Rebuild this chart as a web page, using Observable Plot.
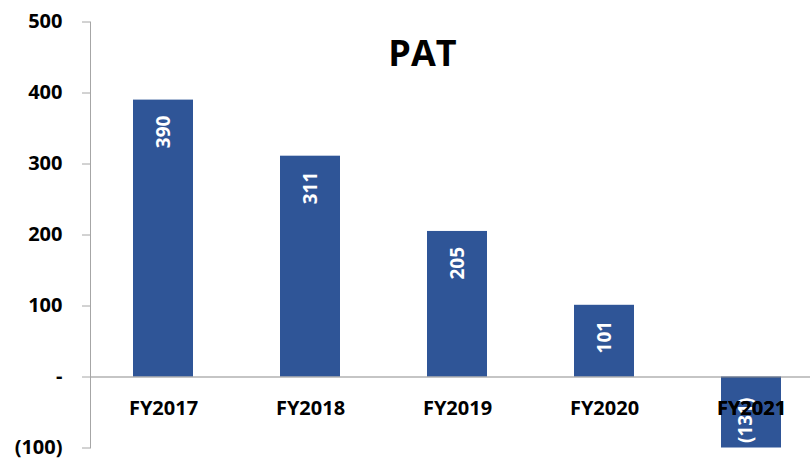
<!DOCTYPE html>
<html>
<head>
<meta charset="utf-8">
<script src="https://cdn.jsdelivr.net/npm/d3@7"></script>
<script src="https://cdn.jsdelivr.net/npm/@observablehq/plot@0.6"></script>
<style>
  html, body { margin: 0; padding: 0; background: #fff; }
</style>
</head>
<body>
<div id="chart"></div>
<script>
const years = ["FY2017", "FY2018", "FY2019", "FY2020", "FY2021"];
const pat = [390, 311, 205, 101, -131];
const patLabels = ["390", "311", "205", "101", "(131)"];
const yTicks = [-100, 0, 100, 200, 300, 400, 500];
const title = "PAT";

const data = years.map((y, i) => ({year: y, value: pat[i], label: patLabels[i]}));
const pos = data.filter(d => d.value >= 0);
const neg = data.filter(d => d.value < 0);

const fmt = v => v === 0 ? "-" : v < 0 ? `(${Math.abs(v)})` : `${v}`;
const gray = "#a6a6a6";

const chart = Plot.plot({
  width: 810,
  height: 458,
  marginLeft: 90,
  marginRight: 0,
  marginTop: 21.5,
  marginBottom: 10.5,
  style: {fontFamily: "'Open Sans', sans-serif", fontWeight: "bold", background: "#fff"},
  x: {type: "band", domain: years, range: [90, 825], paddingInner: 0.59, paddingOuter: 0.295, axis: null},
  y: {domain: [-100, 500], axis: null},
  marks: [
    Plot.barY(data, {x: "year", y: "value", fill: "#2f5597", clip: true}),
    Plot.ruleY([0], {stroke: "#8c8c8c", strokeWidth: 1.2}),
    Plot.frame({anchor: "left", stroke: gray}),
    Plot.axisY({ticks: yTicks, label: null, tickSize: 8, tickPadding: 20, tickFormat: fmt, stroke: gray, fill: "#000", fontSize: 20, fontWeight: "bold"}),
    Plot.text(years, {x: d => d, y: () => 0, dy: 32, fill: "#000", fontSize: 20, fontWeight: "bold"}),
    Plot.text(pos, {x: "year", y: "value", text: "label", rotate: -90, textAnchor: "end", dy: 15.5, fill: "#fff", fontSize: 19, fontWeight: "bold"}),
    Plot.text(neg, {x: "year", frameAnchor: "bottom", text: "label", rotate: -90, textAnchor: "start", dy: -5, fill: "#fff", fontSize: 19, fontWeight: "bold"}),
    Plot.text(neg, {x: "year", y: () => 0, text: "year", dy: 32, fill: "#000", fontSize: 20, fontWeight: "bold"}),
    Plot.text([title], {frameAnchor: "top", dx: -28, dy: 18.5, fill: "#000", fontSize: 36, fontWeight: "bold"})
  ]
});
document.getElementById("chart").appendChild(chart);
</script>
</body>
</html>
